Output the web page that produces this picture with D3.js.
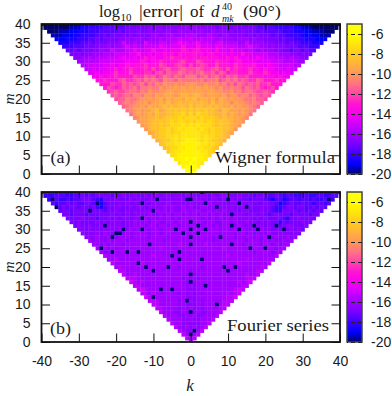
<!DOCTYPE html>
<html><head><meta charset="utf-8">
<script src="https://cdnjs.cloudflare.com/ajax/libs/d3/7.8.5/d3.min.js"></script>
<style>html,body{margin:0;padding:0;background:#fff}svg{display:block}
.tk{font-family:"Liberation Sans",Arial,sans-serif;font-size:14px;fill:#1a1a1a}
.sr{font-family:"Liberation Serif",serif;fill:#1a1a1a}</style></head><body>
<svg id="c" width="392" height="396"></svg>
<script>
// Level codes: a=-20, b=-19.5 ... each letter +0.5, z=-7.5, A=-7, B=-6.5, C=-6
const levelCodes = "abcdefghijklmnopqrstuvwxyzABC";
// One row per m (m = 40 first): left part, k=0, right part
const wignerRows = [
"aaaaa aaaaa bccdd eeeef ffffg fgggg gghgh hhghh h hhghh hghgh ggggf ggfff feeee ddcbb aaaaa aaaaa",
"aaaaa aabbc ddeee effff ffggg ggghg hhghh hhhi h ihhh hhghh gghgg gggff fffee eeedd cbbaa aaaaa",
"aaabb bccdd deeef ffffg fgggh gghgh hhihh iih i hii hhihh hghgg hgggf gffff feeed ddccb bbaaa",
"bbbcc cddee eeffg fgggh ghghh hhiih iijii ij j ji iijii hiihh hhghg hgggf gffee eedcd ccbbb",
"cccdd deeef fgfgg gghhi hiiih iiiji jjjkj j k j jkjjj ijiii hiiih ihhgg ggfgf feeed ddccc",
"dddee effgf ggghh hikii jiilj jjkkj kkmll k lmkkk jkljj jjiik iiiih hhggg fgffe eeddd",
"eeeff fgggh hhihi ijljk jjkkk kmlkl llnl l lnll lkmlk kkkjj kljji ihihh hgggf ffeee",
"ffgfg gghhi iikjj jkkmk kllnl lmlmm mon m nom mmlnl lkmkk kjkji jiiih hggfg gfgff",
"gghgh hiiij jjkkk kllnl lmlmm nmnmo nn n on nmnnm mmlml lnllk kkkjj jiiih hghgg",
"hhiij ijjjk kklml lmlmo mnmmn npoon o n o noonn nmmnm omlml lmlkk kjjji jiihh",
"iijjj jkkkl lllmm mmonm nnpon oopqo o oqpoo nponn mnomm mmlll lkkkj jjjii",
"jjkkk kllml mmonn nopno oqpoo pqpo q opqp ooqoo onpon nnomm lmllk kkkjj",
"kklkl lmmom nnpon opoqo pqrpp qrq q qrq ppqrp oqopo nopnn momml lklkk",
"llmlm mnpnn oqooo ppoqr prqqs rq r qr sqqrp rqopp oooqo nnpnm mlmll",
"mmnmn npooo oqppr qrpqs rqsrq s s s qrsqr sqprq rppqo ooonn nmnmm",
"nnpoo oqrpp qrqsr srqts srtss s sstrs stqrs rsqrq pprqo oopnn",
"oooqp prqrq rsqsr tsutt uttu u uttu ttust rsqsr qrqrp pqooo",
"oqpop rqrsq sstss utuuv uvu v uvu vuutu sstss qsrqr popqo",
"pqrqq rssrt suttu uvvuv vv v vv vuvvu uttus trssr qqrqp",
"qrqrs rttsu utvuv vvuvw w v w wvuvv vuvtu usttr srqrq",
"qrrts stuuv uvwuw vwwvx w xvwwv wuwvu vuuts strrq",
"rstst uuvtv vwvxv wxww x wwxw vxvwv vtvuu tstsr",
"rstuu vuwvv wxwxw xxw y wxx wxwxw vvwuv uutsr",
"stuvu vvwxv wxxyx yx y xy xyxxw vxwvv uvuts",
"suvuv wvxww xxyyz x z x zyyxx wwxvw vuvus",
"tuvvw wxwxy yyzyz z zyzyy yxwxw wvvut",
"uvvwx xyxyz yzzy z yzzy zyxyx xwvvu",
"uvwxx yxyzz zAz A zAz zzyxy xxwvu",
"uwxxy yzyzA zA A Az Azyzy yxxwu",
"vwxyy zyzzA A A A Azzyz yyxwv",
"wxyyz zAzAA A AAzAz zyyxw",
"wxyyz AzAB B BAzA zyyxw",
"xyzzA ABB B BBA Azzyx",
"xyzzA AB B BA Azzyx",
"yzAAB B B B BAAzy",
"zABBB B BBBAz",
"ABBC B CBBA",
"ABB C BBA",
"BC C CB",
"C C C",
"C"];
const fourierRows = [
"efffe ffeef ggfgf ggfgg gghgg hghgg ghggh hghgh h hghgh gghhg hgghg gggfg ffgff gffef effee eeffe",
"eeeff feeff gfgfg gggfg ghggh gghgh hghhg hhgh h hghh ghghh ggghg ggfgg gffgf effee ffeef feeff",
"effee feffg ggfed ggghg gghgh gghhg hghhh hhh h hhh hghhg hghgg ggfgg gfedf fdeff effef eeffe",
"feffg fgffg gfddf ggghg hghgh hghhh hihhh hh i hh hhihh hhghh ghghg gghgg fdefg ffgff effef",
"ffgfg gfggf gedfg gghgg hghhg hhhhi hihhi h i h hiihh ihhhh ghhgh gghgg feefg gfggf fgfgf",
"fggfg gggfg ggfgg hgghg hghhh hihih ihhii h iihhi hihih hhghh ggghg gfeeg gggfg fgfgf",
"ggfgg gfggg ggghg hghgh hhhih hihih iihi h ihii hihih hihhh ghhgh gfghg ggfgg ggfgg",
"ggggh gggfg ghghg hhghh hihih ihihi hii i iih ihihi hihih hhhgh ghggg gfegg hgggg",
"gghgg gghgh ghhhg hhihh ihiih hiihi ii h ii ihiih hiihi hhihh ghghg gegfg gghgg",
"ghggh gghgh hhhgh hihih iihii hiihi i i i ihiih ihiih hihhh ghhgh ggfgh hgggh",
"hhghg hghhh hihhi hihih iihii ihiii i iiihi iihii hihih hhhih hghgh ghghg",
"hghhh hihhh ihihi iiihi ihiii iihi i ihii iiihi iihii hihih hihhh hhghg",
"hhhih hiihi iihii iihii iihii iii i iii iihii iiihi hiihi hihhi hhihh",
"ihihh ihiii hiiii iiiii hiiii ii i ii iiihi iiiii iihii ihihi hhihi",
"iihih iiihi iiiii jiiii iiiji i i i iijii iiiii iihii iihii hihii",
"iiihi hiiii iiiii iijii iiiii i iiiii iiiji iiiii iiiih iihii",
"ihiii iihii iiiii iiiii iiii i iiii iiiii iiiii iihii iihii",
"jiiii iiiii iiiji iiiii iii i iii iiiii ijiii iiiii iiiij",
"iijii iiiii iiiii iiiii ii i ii iiiii iiiii iijii iiiii",
"jiiii iiiji iiiii iiiii i i i iiiii iiiii ijiii iiiij",
"ijiii iiiii iiiii iihii i iihii iiiii iiiii iiiji",
"jjiii iiiii iiiii iiii h iiii iiiii iiiii iiijj",
"jiiji iiiii iiiii iih i hii iiiii iiiii ijiij",
"jjjii iiiii iiiii hi h ih iiiii iiiii iijjj",
"kjiji iiiii iiiii h i h iiiii iiiii ijijk",
"jjiii iiiii iiiih i hiiii iiiii iiijj",
"jkjii iiiii iiih h hiii iiiii iijkj",
"jjiji iiiii hih i hih iiiii ijijj",
"kjjii iiiii ih h hi iiiii iijjk",
"jjjii iiihi h i h ihiii iijjj",
"jjiii iihih h hihii iiijj",
"jjiii ihih i hihi iiijj",
"jiiih hih i hih hiiij",
"jiiih hi h ih hiiij",
"jiiih h i h hiiij",
"jiihh h hhiij",
"jihi h ihij",
"jih h hij",
"ji h ij",
"j i j",
"i"];
// Darkest isolated cells of panel (b)
const speckK = [-37,-36,-27,-25,-23,-18,-19,-20,-21,-24,-21,-17,-14,-14,-12,-13,-9,-10,-13,-13,-11,-4,-2,-5,-3,-3,-1,-6,0,3,4,10,7,13,15,11,0,2,0,2,4,0,8,11,13,17,18,23,25,21,0,11,16,20,3,9,12,37,-10,10,0,0,4,-8,-5,-10,-1,7,0,1,0];
const speckM = [38,36,35,37,31,30,29,29,28,25,24,24,24,21,20,37,38,35,33,30,26,30,29,23,24,22,38,20,38,40,37,38,36,37,36,34,32,31,30,29,30,28,28,31,30,31,30,31,30,28,26,26,25,25,22,20,20,38,19,19,18,16,15,14,14,12,11,10,8,3,2];
const speckValue = -20;
const kTicks = [-40,-30,-20,-10,0,10,20,30,40];
const mTicks = [0,5,10,15,20,25,30,35,40];
const barTicks = [-6,-8,-10,-12,-14,-16,-18,-20];
const paletteStops = [-20,-19,-18,-17,-16,-15,-14,-13,-12,-11,-10,-9,-8,-7,-6,-5];
const paletteColors = ["#00006e","#0000ff","#3c00ff","#7a00ff","#a000ff","#d000ff","#f800f0","#ff14d2","#ff46aa","#ff7382","#ff965a","#ffb23c","#ffcc1e","#ffe60a","#ffff00","#ffff10"];

const color = d3.scaleLinear().domain(paletteStops).range(paletteColors);
const L=41.5,R=340,BL=347,BR=362,panels=[{t:24,b:174,rows:wignerRows,s:false},{t:192,b:342,rows:fourierRows,s:true}];
const svg=d3.select("#c");
const x=d3.scaleLinear().domain([-40,40]).range([L,R]);
const defs=svg.append("defs");
defs.append("filter").attr("id","soft").attr("x","-5%").attr("y","-5%").attr("width","110%").attr("height","110%")
  .append("feGaussianBlur").attr("stdDeviation",0.3);
const cw=x(1)-x(0);
const plain=d=>String(d);
panels.forEach((p,pi)=>{
  const y=d3.scaleLinear().domain([0,40]).range([p.b,p.t]);
  const ch=y(0)-y(1);
  const cells=[];
  p.rows.forEach((s,i)=>{
    const m=40-i, cs=s.replace(/ /g,"");
    [...cs].forEach((c,j)=>cells.push({k:j-m,m,v:-20+levelCodes.indexOf(c)*0.5}));
  });
  if(p.s) speckK.forEach((k,i)=>{const f=cells.find(c=>c.k===k&&c.m===speckM[i]); if(f) f.v=speckValue;});
  const id="clip"+pi;
  defs.append("clipPath").attr("id",id).append("rect").attr("x",L).attr("y",p.t).attr("width",R-L).attr("height",p.b-p.t);
  svg.append("g").attr("clip-path",`url(#${id})`).append("g").attr("filter","url(#soft)")
    .selectAll("rect").data(cells).join("rect")
    .attr("x",d=>x(d.k)-cw/2).attr("y",d=>y(d.m)-ch/2).attr("width",cw+0.3).attr("height",ch+0.3)
    .attr("fill",d=>color(d.v));
  const ax=(g,a)=>{g.call(a);g.select(".domain").remove();g.selectAll(".tick line").attr("stroke","#111").attr("stroke-width",1);g.selectAll("text").attr("class","tk").attr("font-family",null).attr("font-size",null);};
  svg.append("g").attr("transform",`translate(0,${p.b})`).call(g=>ax(g,d3.axisBottom(x).tickValues(kTicks).tickSize(-8.5).tickPadding(14).tickFormat(pi?plain:"")));
  svg.append("g").attr("transform",`translate(0,${p.t})`).call(g=>ax(g,d3.axisTop(x).tickValues(kTicks).tickSize(-6).tickFormat("")));
  svg.append("g").attr("transform",`translate(${L},0)`).call(g=>ax(g,d3.axisLeft(y).tickValues(mTicks).tickSize(-8.5).tickPadding(11).tickFormat(plain)));
  svg.append("g").attr("transform",`translate(${R},0)`).call(g=>ax(g,d3.axisRight(y).tickValues(mTicks).tickSize(-8.5).tickFormat("")));
  svg.append("rect").attr("x",L).attr("y",p.t).attr("width",R-L).attr("height",p.b-p.t).attr("fill","none").attr("stroke","#111").attr("stroke-width",1.8);
  // colour bar
  const by=d3.scaleLinear().domain([-20,-5]).range([p.b,p.t]);
  const gid="grad"+pi;
  const gr=defs.append("linearGradient").attr("id",gid).attr("x1",0).attr("x2",0).attr("y1",1).attr("y2",0);
  paletteStops.forEach((s,i)=>gr.append("stop").attr("offset",(s+20)/15).attr("stop-color",paletteColors[i]));
  svg.append("rect").attr("x",BL).attr("y",p.t).attr("width",BR-BL).attr("height",p.b-p.t).attr("fill",`url(#${gid})`).attr("stroke","#444").attr("stroke-width",1.5);
  const ag=svg.append("g").attr("transform",`translate(${BR},0)`).call(d3.axisRight(by).tickValues(barTicks).tickSize(-(BR-BL)).tickPadding(9).tickFormat(plain));
  ag.select(".domain").remove();
  ag.selectAll(".tick line").attr("stroke","#222").attr("stroke-dasharray","4 3");
  ag.selectAll("text").attr("class","tk").attr("font-family",null).attr("font-size",null);
  svg.append("text").attr("class","sr").attr("transform",`translate(14,${(p.t+p.b)/2}) rotate(-90)`).attr("text-anchor","middle").attr("font-style","italic").attr("font-size",15.5).text("m");
});
const T=(s,xp,yp,fs,st)=>svg.append("text").attr("class","sr").attr("x",xp).attr("y",yp).attr("font-size",fs).attr("font-style",st||"normal").text(s);
const fit=(t,w)=>t.attr("textLength",w).attr("lengthAdjust","spacingAndGlyphs");
fit(T("(a)",50.5,163,16.5),20); fit(T("Wigner formula",215,162.5,17),120);
fit(T("(b)",50,334,16.5),21); fit(T("Fourier series",227,331,17),102);
svg.append("text").attr("class","sr").attr("x",190).attr("y",391).attr("text-anchor","middle").attr("font-style","italic").attr("font-size",17).text("k");
fit(T("log",99,17,17),21); T("10",120.5,21,11); fit(T("|error|",139,17,17),44);
T("of",190,17,17); T("d",211,17,17,"italic"); T("40",222,10,10); T("mk",222,22,10,"italic"); fit(T("(90°)",243,17,17),38);
</script></body></html>
